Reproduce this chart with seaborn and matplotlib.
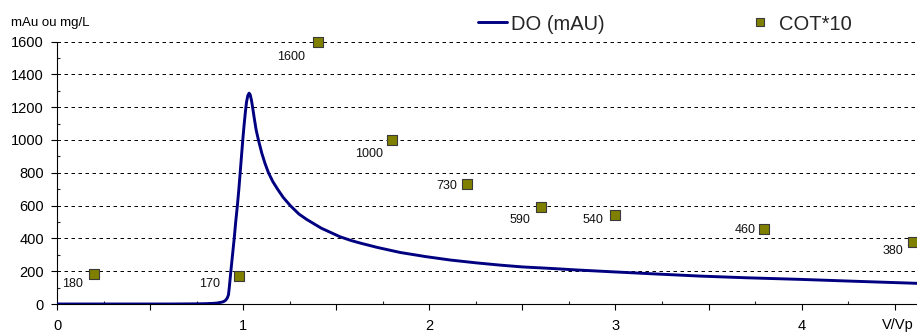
import matplotlib
matplotlib.use("Agg")
import matplotlib.pyplot as plt
from matplotlib.ticker import MultipleLocator, FuncFormatter
from matplotlib.lines import Line2D
import seaborn as sns
import pandas as pd

# ---- data ----
do_x = [0, 0.3, 0.6, 0.75, 0.8, 0.84, 0.86, 0.88, 0.894, 0.905, 0.914, 0.921,
        0.926, 0.934, 0.943, 0.952, 0.96, 0.969, 0.977, 0.984, 0.991, 0.998,
        1.005, 1.012, 1.018, 1.025, 1.032, 1.038, 1.045, 1.052, 1.06, 1.07,
        1.082, 1.1, 1.118, 1.136, 1.16, 1.185, 1.215, 1.253, 1.3, 1.342, 1.42,
        1.52, 1.58, 1.63, 1.72, 1.844, 1.98, 2.113, 2.25, 2.38, 2.5, 2.65,
        2.8, 2.97, 3.2, 3.457, 3.7, 3.995, 4.3, 4.62]
do_y = [0, 0, 0, 1, 2, 4, 6, 10, 14, 22, 35, 55,
        105, 200, 300, 400, 500, 600, 700, 800, 900, 1000,
        1090, 1170, 1230, 1270, 1285, 1275, 1240, 1190, 1130, 1060,
        1000, 920, 855, 800, 745, 700, 650, 600, 548, 515, 462,
        410, 387, 371, 345, 314, 289, 268, 251, 237, 226, 217,
        207, 197, 184, 170, 160, 150, 138, 126]

cot_x = [0.2, 0.98, 1.4, 1.8, 2.2, 2.6, 3.0, 3.8, 4.6]
cot_y = [180, 170, 1600, 1000, 730, 590, 540, 460, 380]
cot_labels = ["180", "170", "1600", "1000", "730", "590", "540", "460", "380"]

y_ticks = [0, 200, 400, 600, 800, 1000, 1200, 1400, 1600]
x_tick_labels = ["0", "1", "2", "3", "4"]

# label offsets (pixels, right/down) for the data labels
label_offsets_px = [(-11, 8), (-19, 6), (-13, 14.5), (-9, 12.5), (-9, 0),
                    (-11, 11.5), (-12, 3), (-9, 0), (-10, 7.5)]

sns.set_style("white")
plt.rcParams["font.family"] = ["Liberation Sans", "DejaVu Sans"]

W, H = 917, 332
fig = plt.figure(figsize=(W / 100, H / 100), dpi=100)
ax = fig.add_axes([57 / W, 28 / H, (W - 57) / W, 262.5 / H])

do_df = pd.DataFrame({"x": do_x, "y": do_y})
cot_df = pd.DataFrame({"x": cot_x, "y": cot_y})

sns.lineplot(data=do_df, x="x", y="y", ax=ax, color="#000080", linewidth=2.1,
             sort=False, estimator=None, zorder=3)
for ln in ax.get_lines():
    ln.set_solid_joinstyle("round")
    ln.set_solid_capstyle("round")
sns.scatterplot(data=cot_df, x="x", y="y", ax=ax, marker="s", s=52,
                color="#808000", edgecolor="#3a3a3a", linewidth=0.8, zorder=4,
                clip_on=False)

for x, y, lab, (dx, dy) in zip(cot_x, cot_y, cot_labels, label_offsets_px):
    ax.annotate(lab, (x, y), xytext=(dx * 0.72, -dy * 0.72),
                textcoords="offset points", ha="right", va="center_baseline",
                fontsize=9, color="#111111", zorder=5)

ax.set_xlim(0, 4.62)
ax.set_ylim(0, 1600)
ax.set_xlabel("")
ax.set_ylabel("")

ax.xaxis.set_major_locator(MultipleLocator(0.5))
ax.xaxis.set_minor_locator(MultipleLocator(0.25))
ax.xaxis.set_major_formatter(FuncFormatter(
    lambda v, p: x_tick_labels[int(round(v))] if abs(v - round(v)) < 1e-6 and 0 <= round(v) < len(x_tick_labels) else ""))
ax.set_yticks(y_ticks)
ax.yaxis.set_minor_locator(MultipleLocator(100))

ax.tick_params(axis="x", which="major", direction="out", length=4.3, width=0.8,
               pad=6.3, labelsize=10.5, colors="black", bottom=True)
ax.tick_params(axis="x", which="minor", direction="in", length=2.3, width=0.8,
               bottom=True)
ax.tick_params(axis="y", which="major", direction="out", length=4.3, width=0.8,
               pad=5.0, labelsize=10.5, colors="black", left=True)
ax.tick_params(axis="y", which="minor", direction="in", length=2.5, width=0.8,
               left=True)

for s in ["top", "right"]:
    ax.spines[s].set_visible(False)
for s in ["left", "bottom"]:
    ax.spines[s].set_color("black")
    ax.spines[s].set_linewidth(0.8)

ax.grid(False)
for yv in y_ticks[1:]:
    ax.axhline(yv, color="black", linewidth=0.7, linestyle=(0, (3.6, 3.6)),
               zorder=1)

ax.set_facecolor("white")
fig.patch.set_facecolor("white")

fig.text(11 / W, 1 - 23 / H, "mAu ou mg/L", fontsize=9.5, ha="left",
         va="center", color="black")
fig.text(882 / W, 1 - 325 / H, "V/Vp", fontsize=10.5, ha="left",
         va="center", color="black")

handles = [Line2D([0], [0], color="#000080", linewidth=2.1),
           Line2D([0], [0], marker="s", linestyle="none", markersize=6,
                  markerfacecolor="#808000", markeredgecolor="#3a3a3a",
                  markeredgewidth=0.8)]
fig.legend(handles, ["DO (mAU)", "COT*10"], loc="center left",
           bbox_to_anchor=(478 / W, 1 - 24 / H), ncol=2, frameon=False,
           fontsize=14.5, handlelength=1.45, handletextpad=0.2,
           columnspacing=7.0, borderpad=0, borderaxespad=0)

fig.savefig("out.png", dpi=100, facecolor="white")
